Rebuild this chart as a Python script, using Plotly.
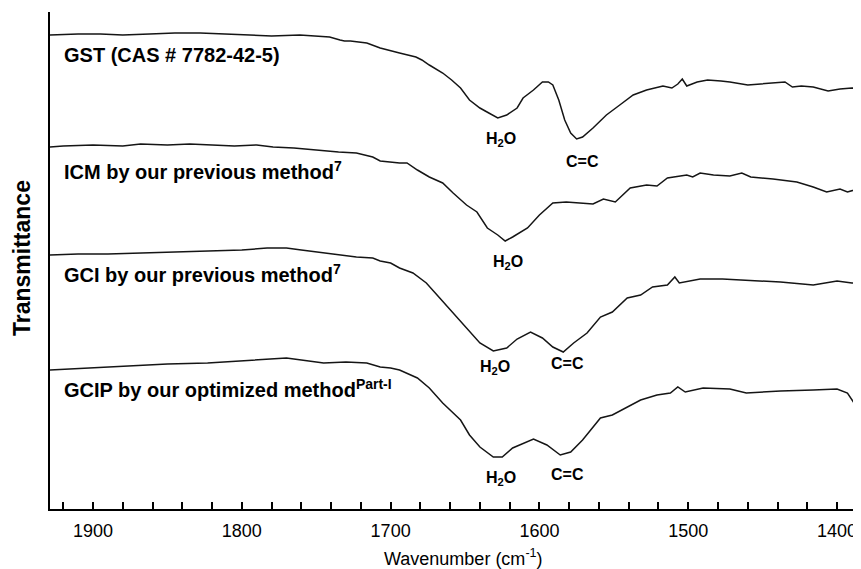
import plotly.graph_objects as go

# ---- data (wavenumber in cm^-1, transmittance in arbitrary offset units) ----
gst_wn = [1929, 1910, 1895, 1880, 1862, 1845, 1828, 1810, 1795, 1780, 1761, 1750, 1741, 1734, 1731,
          1727, 1721, 1716, 1707, 1700, 1694, 1683, 1679, 1674, 1665, 1659, 1653, 1647, 1640, 1634,
          1628, 1622, 1615, 1611, 1604, 1598, 1594, 1591, 1587, 1583, 1579, 1575, 1571, 1564, 1555,
          1546, 1537, 1528, 1517, 1511, 1507, 1504, 1501, 1494, 1487, 1478, 1472, 1460, 1450, 1441,
          1435, 1430, 1424, 1416, 1406, 1398, 1390, 1384]
gst_t = [474, 475, 475, 474, 475, 476, 476, 475, 474, 473, 474, 473, 472, 469, 468,
         468, 467, 466, 461, 458, 456, 452, 449, 444, 436, 429, 421, 409, 401, 396,
         391, 394, 401, 411, 419, 427, 427, 424, 409, 389, 376, 370, 372, 381, 394,
         404, 414, 419, 423, 421, 425, 430, 423, 427, 429, 428, 427, 424, 425, 426,
         427, 422, 423, 422, 418, 420, 421, 420]

icm_wn = [1929, 1920, 1900, 1880, 1868, 1850, 1835, 1823, 1805, 1790, 1779, 1765, 1745, 1735, 1723,
          1712, 1707, 1694, 1689, 1682, 1674, 1665, 1658, 1649, 1642, 1635, 1628, 1623, 1618, 1608,
          1600, 1591, 1582, 1573, 1564, 1557, 1549, 1539, 1528, 1521, 1514, 1501, 1497, 1492, 1483,
          1472, 1464, 1458, 1443, 1427, 1416, 1407, 1398, 1393, 1384]
icm_t = [362, 363, 364, 363, 365, 364, 365, 364, 363, 364, 362, 361, 358, 357, 356,
         352, 348, 346, 346, 339, 332, 326, 316, 304, 297, 281, 274, 268, 272, 281,
         294, 306, 307, 306, 305, 310, 307, 321, 324, 323, 331, 334, 332, 336, 334,
         333, 336, 332, 330, 327, 322, 317, 320, 317, 321]

gci_wn = [1929, 1910, 1890, 1868, 1850, 1823, 1800, 1783, 1770, 1760, 1745, 1735, 1723, 1712, 1707,
          1700, 1694, 1685, 1676, 1667, 1658, 1649, 1640, 1631, 1622, 1615, 1606, 1598, 1591, 1584,
          1577, 1568, 1559, 1551, 1541, 1532, 1524, 1514, 1509, 1506, 1492, 1477, 1461, 1438, 1416,
          1400, 1390, 1384]
gci_t = [254, 255, 255, 256, 257, 258, 259, 261, 261, 259, 256, 254, 252, 251, 248,
         246, 241, 236, 226, 211, 196, 181, 166, 158, 161, 170, 177, 171, 162, 157,
         166, 176, 192, 197, 211, 214, 222, 224, 232, 226, 230, 230, 229, 227, 224,
         228, 226, 226]

gcip_wn = [1929, 1915, 1895, 1868, 1850, 1823, 1800, 1783, 1770, 1760, 1745, 1730, 1716, 1707, 1700,
           1694, 1682, 1674, 1665, 1653, 1647, 1640, 1631, 1625, 1618, 1604, 1595, 1586, 1579, 1571,
           1559, 1551, 1541, 1532, 1521, 1512, 1507, 1502, 1490, 1472, 1461, 1438, 1416, 1400, 1393,
           1389, 1384]
gcip_t = [139, 140, 142, 144, 145, 146, 148, 150, 151, 149, 146, 147, 146, 142, 141,
          139, 131, 121, 106, 89, 74, 62, 52, 52, 61, 70, 64, 54, 57, 69,
          91, 94, 102, 109, 114, 116, 122, 117, 121, 120, 116, 118, 119, 120, 116,
          107, 106]

series_names = ["GST (CAS # 7782-42-5)",
                "ICM by our previous method<sup>7</sup>",
                "GCI by our previous method<sup>7</sup>",
                "GCIP by our optimized method<sup>Part-I</sup>"]
label_y = [454, 339, 236, 121]

peak_text = ["H<sub>2</sub>O", "C=C", "H<sub>2</sub>O", "H<sub>2</sub>O", "C=C", "H<sub>2</sub>O", "C=C"]
peak_wn = [1626, 1571, 1621, 1630, 1581, 1626, 1581]
peak_t = [370, 348, 247, 142, 146, 31, 35]

tick_vals = [1900, 1800, 1700, 1600, 1500, 1400]
tick_text = ["1900", "1800", "1700", "1600", "1500", "1400"]

FONT = "Liberation Sans, Arial, sans-serif"
INK = "#000000"

fig = go.Figure()
for wn, t, name in zip([gst_wn, icm_wn, gci_wn, gcip_wn], [gst_t, icm_t, gci_t, gcip_t], series_names):
    fig.add_trace(go.Scatter(x=wn, y=t, mode="lines", name=name,
                             line=dict(color="#151515", width=1.5), showlegend=False))

annotations = []
for name, y in zip(series_names, label_y):
    annotations.append(dict(x=1921, y=y, xref="x", yref="y", text="<b>" + name + "</b>",
                            showarrow=False, xanchor="left", yanchor="middle",
                            font=dict(family=FONT, size=20, color=INK)))
for txt, x, y in zip(peak_text, peak_wn, peak_t):
    annotations.append(dict(x=x, y=y, xref="x", yref="y", text="<b>" + txt + "</b>",
                            showarrow=False, xanchor="center", yanchor="middle",
                            font=dict(family=FONT, size=16, color=INK)))

# the page body adds an 8px offset, so the figure is drawn 8px smaller
W, H = 853, 561
L, R, T, B = 42, 0, 4, 60
pw, ph = W - L - R, H - T - B
# axis titles placed by figure-pixel positions, converted to paper coordinates
annotations.append(dict(x=(455 - L) / pw, y=(H - B - 549) / ph, xref="paper", yref="paper",
                        text="Wavenumber (cm<sup>-1</sup>)", showarrow=False,
                        xanchor="center", yanchor="middle",
                        font=dict(family=FONT, size=18, color=INK)))
annotations.append(dict(x=(14 - L) / pw, y=(H - B - 250) / ph, xref="paper", yref="paper",
                        text="<b>Transmittance</b>", showarrow=False, textangle=-90,
                        xanchor="center", yanchor="middle",
                        font=dict(family=FONT, size=23, color=INK)))

fig.update_layout(
    width=W, height=H,
    margin=dict(l=L, r=R, t=T, b=B),
    paper_bgcolor="white", plot_bgcolor="white",
    font=dict(family=FONT, color=INK),
    annotations=annotations,
    xaxis=dict(range=[1928.9, 1383.9], tickmode="array", tickvals=tick_vals, ticktext=tick_text,
               ticks="inside", ticklen=7, tickwidth=1.5, tickcolor=INK, ticklabelstandoff=4,
               minor=dict(dtick=20, tick0=1400, ticks="inside", ticklen=7, tickwidth=1.5,
                          tickcolor=INK, showgrid=False),
               showline=True, linecolor=INK, linewidth=2, showgrid=False, zeroline=False,
               tickfont=dict(family=FONT, size=18, color=INK)),
    yaxis=dict(range=[0, 497], showticklabels=False, ticks="", showline=True,
               linecolor=INK, linewidth=2, showgrid=False, zeroline=False),
)

fig.write_html("out.html")
